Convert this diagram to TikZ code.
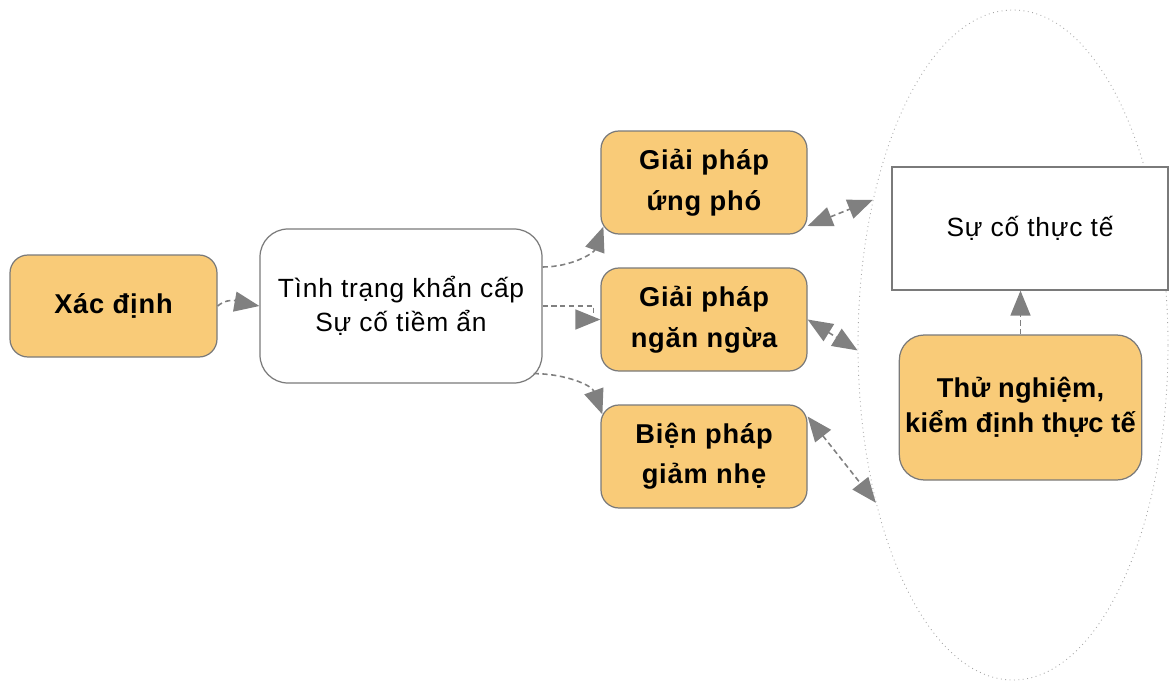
\documentclass[tikz,border=0pt]{standalone}
\usepackage{fontspec}
\setmainfont{Liberation Sans}
\usepackage{tikz}
\usetikzlibrary{arrows.meta, shapes.geometric}
\definecolor{boxorange}{HTML}{F9CB78}
\definecolor{edgegray}{HTML}{7A7A7A}
\definecolor{arrowgray}{HTML}{808080}

\begin{document}
\begin{tikzpicture}[
		task/.style={draw=edgegray, line width=0.7pt, fill=boxorange, rounded corners=0.36cm, align=center,
			minimum width=4.12cm, minimum height=2.06cm,
			font=\fontsize{15.5}{23}\selectfont\bfseries\addfontfeature{LetterSpace=3}},
		state/.style={draw=edgegray, line width=0.7pt, fill=white, align=center,
			font=\fontsize{15}{19}\selectfont\addfontfeature{LetterSpace=3}},
		link/.style={draw=arrowgray, line width=0.9pt, dashed, dash pattern=on 3pt off 2pt,
			-{Triangle[length=0.5cm, width=0.4cm]}},
		both/.style={link, {Triangle[length=0.5cm, width=0.4cm]}-{Triangle[length=0.5cm, width=0.4cm]}}
	]
		\useasboundingbox (0,0) rectangle (23.4,13.64);
		\node[ellipse, draw=gray!70, dotted, line width=0.5pt, inner sep=0pt,
			minimum width=6.2cm, minimum height=13.4cm] (grp) at (20.26,6.74) {};
		\node[task, minimum width=4.14cm, minimum height=2.04cm] (xac) at (2.27,7.52) {Xác định};
		\node[state, rounded corners=0.56cm, minimum width=5.64cm, minimum height=3.08cm] (tinh) at (8.02,7.52)
			{Tình trạng khẩn cấp\\Sự cố tiềm ẩn};
		\foreach[count=\i] \nm/\txt/\y in {ungpho/{Giải pháp\\ứng phó}/9.99, ngan/{Giải pháp\\ngăn ngừa}/7.25, giam/{Biện pháp\\giảm nhẹ}/4.51} {
			\node[task] (\nm) at (14.08,\y) {\txt};
		}
		\node[state, minimum width=5.52cm, minimum height=2.46cm] (suco) at (20.6,9.07) {Sự cố thực tế};
		\node[task, rounded corners=0.5cm, minimum width=4.82cm, minimum height=2.9cm,
			font=\fontsize{15.5}{20}\selectfont\bfseries\addfontfeature{LetterSpace=1}] (thu) at (20.41,5.49) {Thử nghiệm,\\kiểm định thực tế};
		% dashed connectors
		\draw[link] (xac.east) to[out=40, in=170] (tinh.west);
		\draw[link] ([yshift=0.78cm]tinh.east) to[out=0, in=250] ([xshift=0.06cm, yshift=0.16cm]ungpho.south west);
		\draw[link] (tinh.east) -- ++(1.02,0) |- (ngan.west);
		\draw[link] ([xshift=-0.18cm, yshift=0.2cm]tinh.south east) to[out=0, in=110] ([xshift=0.04cm, yshift=-0.2cm]giam.north west);
		\draw[both] ([yshift=-0.87cm]ungpho.east) -- (grp.134);
		\draw[both] (ngan.east) -- (grp.182);
		\draw[both] ([yshift=0.8cm]giam.east) -- (grp.229);
		\draw[link] (thu.north) -- (thu.north |- suco.south);
	\end{tikzpicture}
\end{document}
